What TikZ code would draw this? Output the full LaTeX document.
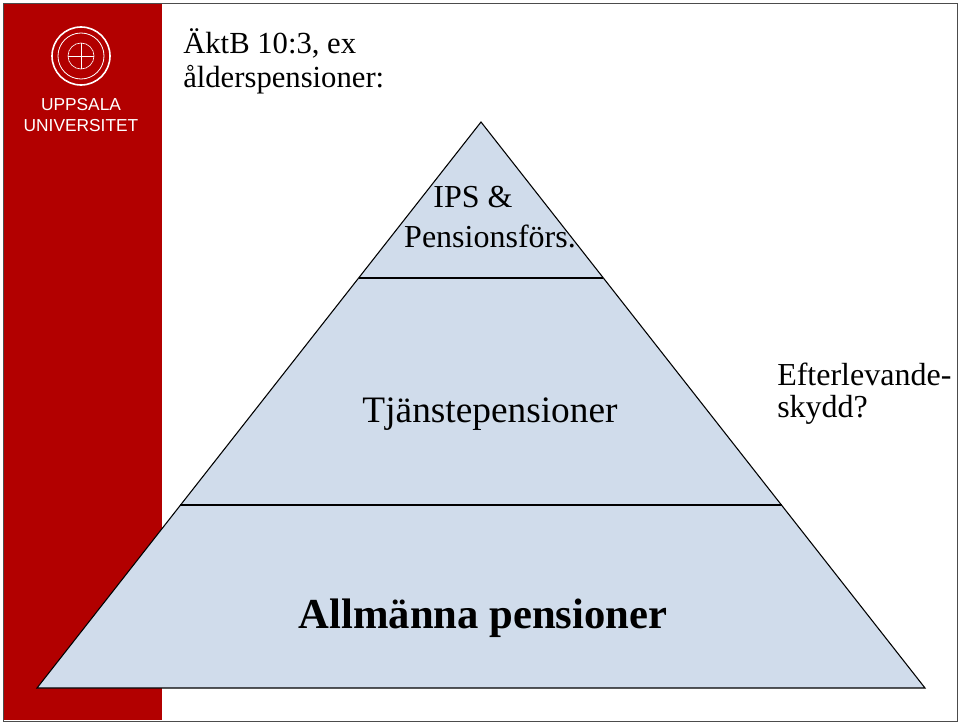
\documentclass[tikz,border=0pt]{standalone}
\usepackage{fontspec}
\setmainfont{Liberation Serif}
\newfontfamily\logofont{Liberation Sans}
\definecolor{uured}{RGB}{178,0,0}
\definecolor{pyrfill}{RGB}{208,220,235}
\tikzset{
    level/.style={draw=none, inner sep=0pt},
    txt/.style={inner sep=0pt, align=left, anchor=west}
}
\begin{document}
\begin{tikzpicture}[x=0.75pt,y=-0.75pt]
        \useasboundingbox (0,0) rectangle (960,724);
        \fill[white] (0,0) rectangle (960,724);
        \draw[black!70] (3,3) rectangle (957,721);
        \fill[uured] (4,4) rectangle (162,720);
        % logo
        \draw[white, line width=1.2pt] (81,56) circle (29);
        \draw[white, line width=0.6pt] (81,56) circle (23);
        \draw[white, line width=0.5pt] (81,56) circle (13);
        \draw[white, line width=0.5pt] (68,56) -- (94,56) (81,43) -- (81,69);
        \node (uu1) [level, text=white] at (81,105) {\logofont\fontsize{13}{14}\selectfont UPPSALA};
        \node (uu2) [level, text=white] at (81,126) {\logofont\fontsize{13}{14}\selectfont UNIVERSITET};
        % pyramid
        \coordinate (top) at (481,122);
        \coordinate (bl) at (37,688);
        \coordinate (br) at (925,688);
        \filldraw[fill=pyrfill, draw=black, line width=0.8pt] (top) -- (br) -- (bl) -- cycle;
        \coordinate (a1) at (359,278);
        \coordinate (a2) at (603,278);
        \coordinate (b1) at (180,505);
        \coordinate (b2) at (782,505);
        \draw[line width=0.8pt] (a1) -- (a2);
        \draw[line width=0.8pt] (b1) -- (b2);
        % texts
        \node (t1) [txt] at (183,43) {\fontsize{23}{25}\selectfont ÄktB 10:3, ex};
        \node (t2) [txt] at (183,80) {\fontsize{23}{25}\selectfont ålderspensioner:};
        \node (ips) [level] at (473,197) {\fontsize{24}{26}\selectfont IPS \&};
        \node (pf) [level] at (490,236) {\fontsize{24}{26}\selectfont Pensionsförs.};
        \node (tj) [level] at (490,414) {\fontsize{28}{30}\selectfont Tjänstepensioner};
        \node (ef1) [txt] at (777,374) {\fontsize{24}{26}\selectfont Efterlevande-};
        \node (ef2) [txt] at (777,410) {\fontsize{24}{26}\selectfont skydd?};
        \node (al) [level] at (483,618) {\fontsize{32}{34}\selectfont\bfseries Allmänna pensioner};
\end{tikzpicture}
\end{document}
